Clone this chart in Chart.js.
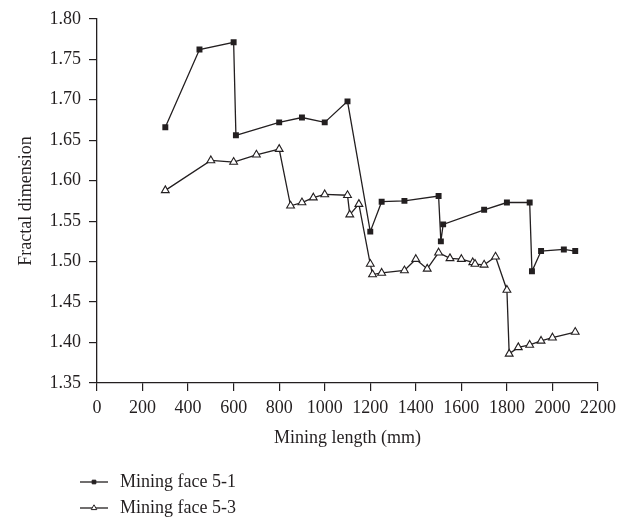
<!DOCTYPE html>
<html>
<head>
<meta charset="utf-8">
<script src="https://cdn.jsdelivr.net/npm/chart.js@4/dist/chart.umd.min.js"></script>
<style>
  html, body { margin: 0; padding: 0; background: #fff; }
  #wrap { width: 629px; height: 517px; position: relative; }
</style>
</head>
<body>
<div id="wrap"><canvas id="fractalChart"></canvas></div>
<script>
const face51X = [300, 450, 600, 610, 800, 900, 1000, 1100, 1200, 1250, 1350, 1500, 1510, 1520, 1700, 1800, 1900, 1910, 1950, 2050, 2100];
const face51Y = [1.666, 1.762, 1.771, 1.656, 1.672, 1.678, 1.672, 1.698, 1.537, 1.574, 1.575, 1.581, 1.525, 1.546, 1.564, 1.573, 1.573, 1.488, 1.513, 1.515, 1.513];

const face53X = [300, 500, 600, 700, 800, 850, 900, 950, 1000, 1100, 1110, 1150, 1200, 1210, 1250, 1350, 1400, 1450, 1500, 1550, 1600, 1650, 1660, 1700, 1750, 1800, 1810, 1850, 1900, 1950, 2000, 2100];
const face53Y = [1.588, 1.625, 1.623, 1.632, 1.639, 1.569, 1.573, 1.579, 1.583, 1.582, 1.558, 1.571, 1.497, 1.484, 1.486, 1.489, 1.503, 1.491, 1.511, 1.504, 1.503, 1.499, 1.497, 1.496, 1.506, 1.465, 1.386, 1.394, 1.397, 1.402, 1.406, 1.413];

const seriesNames = ['Mining face 5-1', 'Mining face 5-3'];
const xTitle = 'Mining length (mm)';
const yTitle = 'Fractal dimension';

const ink = '#231f20';
const serif = "'Liberation Serif', 'DejaVu Serif', serif";

function toPoints(xs, ys) {
    return xs.map((x, i) => ({ x: x, y: ys[i] }));
}

// legend drawn under the plot, one entry per row
const bottomLegend = {
    id: 'bottomLegend',
    afterDraw(chart) {
        const ctx = chart.ctx;
        ctx.save();
        chart.data.datasets.forEach((ds, i) => {
            const y = 482 + i * 26;
            ctx.strokeStyle = ink;
            ctx.lineWidth = 1.3;
            ctx.beginPath();
            ctx.moveTo(80, y);
            ctx.lineTo(108, y);
            ctx.stroke();
            ctx.fillStyle = ds.pointBackgroundColor;
            ctx.strokeStyle = ink;
            ctx.lineWidth = 1;
            Chart.helpers.drawPoint(ctx, {
                pointStyle: ds.pointStyle,
                radius: ds.pointStyle === 'rect' ? 2.6 : 3.2,
                borderWidth: 1
            }, 94, y);
            ctx.fillStyle = ink;
            ctx.font = '18px ' + serif;
            ctx.textBaseline = 'middle';
            ctx.fillText(ds.label, 120, y);
        });
        ctx.restore();
    }
};

new Chart(document.getElementById('fractalChart'), {
    type: 'line',
    data: {
        datasets: [{
            label: seriesNames[0],
            data: toPoints(face51X, face51Y),
            borderColor: ink,
            borderWidth: 1.3,
            pointStyle: 'rect',
            pointRadius: 4.2,
            pointBackgroundColor: ink,
            pointBorderColor: ink,
            pointBorderWidth: 0,
            tension: 0
        }, {
            label: seriesNames[1],
            data: toPoints(face53X, face53Y),
            borderColor: ink,
            borderWidth: 1.3,
            pointStyle: 'triangle',
            pointRadius: 4.5,
            pointBackgroundColor: '#ffffff',
            pointBorderColor: ink,
            pointBorderWidth: 1.1,
            tension: 0
        }]
    },
    options: {
        responsive: true,
        maintainAspectRatio: false,
        animation: false,
        layout: { padding: { top: 17, right: 31, bottom: 64, left: 0 } },
        plugins: {
            legend: { display: false },
            tooltip: { enabled: false }
        },
        scales: {
            x: {
                type: 'linear',
                min: 0,
                max: 2200,
                ticks: { stepSize: 200, color: ink, font: { family: serif, size: 18 }, padding: 6, maxRotation: 0, callback: v => String(v) },
                grid: { drawOnChartArea: false, color: ink, tickLength: 8, lineWidth: 1.2 },
                border: { color: ink, width: 1.3 },
                title: { display: true, text: xTitle, color: ink, font: { family: serif, size: 18 }, padding: { top: 0 } },
                afterFit(scale) { scale.height = 70; }
            },
            y: {
                min: 1.35,
                max: 1.80,
                ticks: { stepSize: 0.05, color: ink, font: { family: serif, size: 18 }, padding: 8, callback: v => v.toFixed(2) },
                grid: { drawOnChartArea: false, color: ink, tickLength: 8, lineWidth: 1.2 },
                border: { color: ink, width: 1.3 },
                title: { display: true, text: yTitle, color: ink, font: { family: serif, size: 18 }, padding: { top: 15, bottom: 0 } },
                afterFit(scale) { scale.width = 97; }
            }
        }
    },
    plugins: [bottomLegend]
});
</script>
</body>
</html>
